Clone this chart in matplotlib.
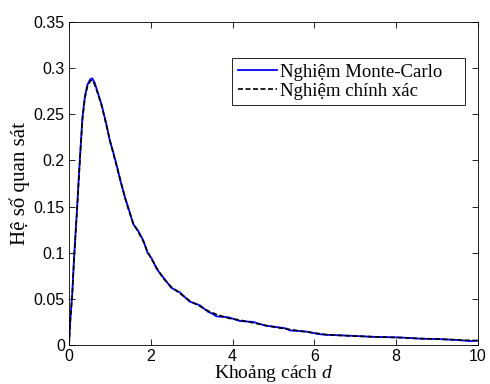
import matplotlib
matplotlib.use("Agg")
import matplotlib.pyplot as plt

plt.rcParams["mathtext.fontset"] = "custom"
plt.rcParams["mathtext.it"] = "Liberation Serif:italic"
plt.rcParams["mathtext.rm"] = "Liberation Serif"

# Exact solution
x_exact = [0, 0.03, 0.08, 0.12, 0.16, 0.2, 0.24, 0.28, 0.33, 0.39, 0.45, 0.52, 0.57, 0.63, 0.7,
           0.8, 0.92, 1.0, 1.08, 1.17, 1.25, 1.37, 1.47, 1.57, 1.7, 1.82, 1.92, 2.02, 2.15,
           2.31, 2.5, 2.71, 2.95, 3.2, 3.4, 3.61, 3.9, 4.18, 4.5, 5.0, 5.4, 5.81, 6.3, 6.8,
           7.44, 8.09, 8.6, 9.07, 9.5, 10]
y_exact = [0, 0.025, 0.055, 0.09, 0.12, 0.148, 0.18, 0.21, 0.245, 0.268, 0.28, 0.286, 0.287,
           0.282, 0.273, 0.259, 0.237, 0.222, 0.208, 0.193, 0.18, 0.159, 0.145, 0.132, 0.122,
           0.112, 0.101, 0.093, 0.083, 0.072, 0.063, 0.056, 0.048, 0.042, 0.037, 0.033, 0.029,
           0.027, 0.024, 0.0195, 0.0168, 0.0142, 0.0112, 0.0100, 0.0090, 0.0080, 0.0070,
           0.0063, 0.0055, 0.0047]

# Monte-Carlo solution (slightly noisy)
x_mc = [0, 0.03, 0.08, 0.12, 0.16, 0.2, 0.24, 0.28, 0.33, 0.39, 0.45, 0.52, 0.57, 0.63, 0.7,
        0.8, 0.92, 1.0, 1.08, 1.17, 1.25, 1.37, 1.47, 1.57, 1.7, 1.82, 1.92, 2.02, 2.15,
        2.31, 2.5, 2.71, 2.95, 3.2, 3.4, 3.5, 3.61, 3.9, 4.18, 4.5, 4.8, 5.0, 5.3, 5.4, 5.81,
        6.1, 6.3, 6.8, 7.44, 8.09, 8.6, 9.07, 9.5, 9.8, 10]
y_mc = [0, 0.026, 0.056, 0.092, 0.121, 0.15, 0.182, 0.212, 0.247, 0.27, 0.282, 0.288, 0.289,
        0.284, 0.274, 0.26, 0.238, 0.221, 0.209, 0.194, 0.179, 0.16, 0.146, 0.131, 0.123,
        0.113, 0.100, 0.094, 0.082, 0.073, 0.062, 0.057, 0.047, 0.043, 0.036, 0.034, 0.031,
        0.030, 0.026, 0.025, 0.021, 0.020, 0.018, 0.0158, 0.0145, 0.0118, 0.0110, 0.0102,
        0.0088, 0.0082, 0.0068, 0.0064, 0.0054, 0.0042, 0.0048]

x_ticks = [0, 2, 4, 6, 8, 10]
y_ticks = [0, 0.05, 0.1, 0.15, 0.2, 0.25, 0.3, 0.35]
y_tick_labels = ["0", "0.05", "0.1", "0.15", "0.2", "0.25", "0.3", "0.35"]

fig = plt.figure(figsize=(4.9, 3.84), dpi=100)
ax = fig.add_axes([69/490, 1 - 345/384, (478-69)/490, (345-22)/384])

ax.plot(x_mc, y_mc, color=(0, 0, 1), lw=1.3, label="Nghiệm Monte-Carlo")
ax.plot(x_exact, y_exact, color="black", lw=1.2, ls=(0, (3, 1.5)), label="Nghiệm chính xác")

ax.set_xlim(0, 10)
ax.set_ylim(0, 0.35)
ax.set_xticks(x_ticks)
ax.set_yticks(y_ticks)
ax.set_yticklabels(y_tick_labels)
ax.tick_params(direction="in", top=True, right=True, length=4, width=0.6,
               labelsize=11.5, pad=3)
for lab in ax.get_xticklabels() + ax.get_yticklabels():
    lab.set_fontfamily("Liberation Sans")
for s in ax.spines.values():
    s.set_linewidth(0.6)

ax.set_xlabel("Khoảng cách $d$", fontfamily="Liberation Serif", fontsize=14, labelpad=-0.5)
ax.set_ylabel("Hệ số quan sát", fontfamily="Liberation Serif", fontsize=15, labelpad=3)

leg = ax.legend(loc="upper left", mode="expand",
                bbox_to_anchor=(232/490, 1 - 107/384, 233/490, 49/384),
                bbox_transform=fig.transFigure,
                prop={"family": "Liberation Serif", "size": 13.5},
                frameon=True, fancybox=False, edgecolor="black", framealpha=1,
                handlelength=2.1, handletextpad=0.15, borderpad=0.3, labelspacing=0.1,
                borderaxespad=0)
leg.get_frame().set_linewidth(0.6)

fig.savefig("out.png", dpi=100)
